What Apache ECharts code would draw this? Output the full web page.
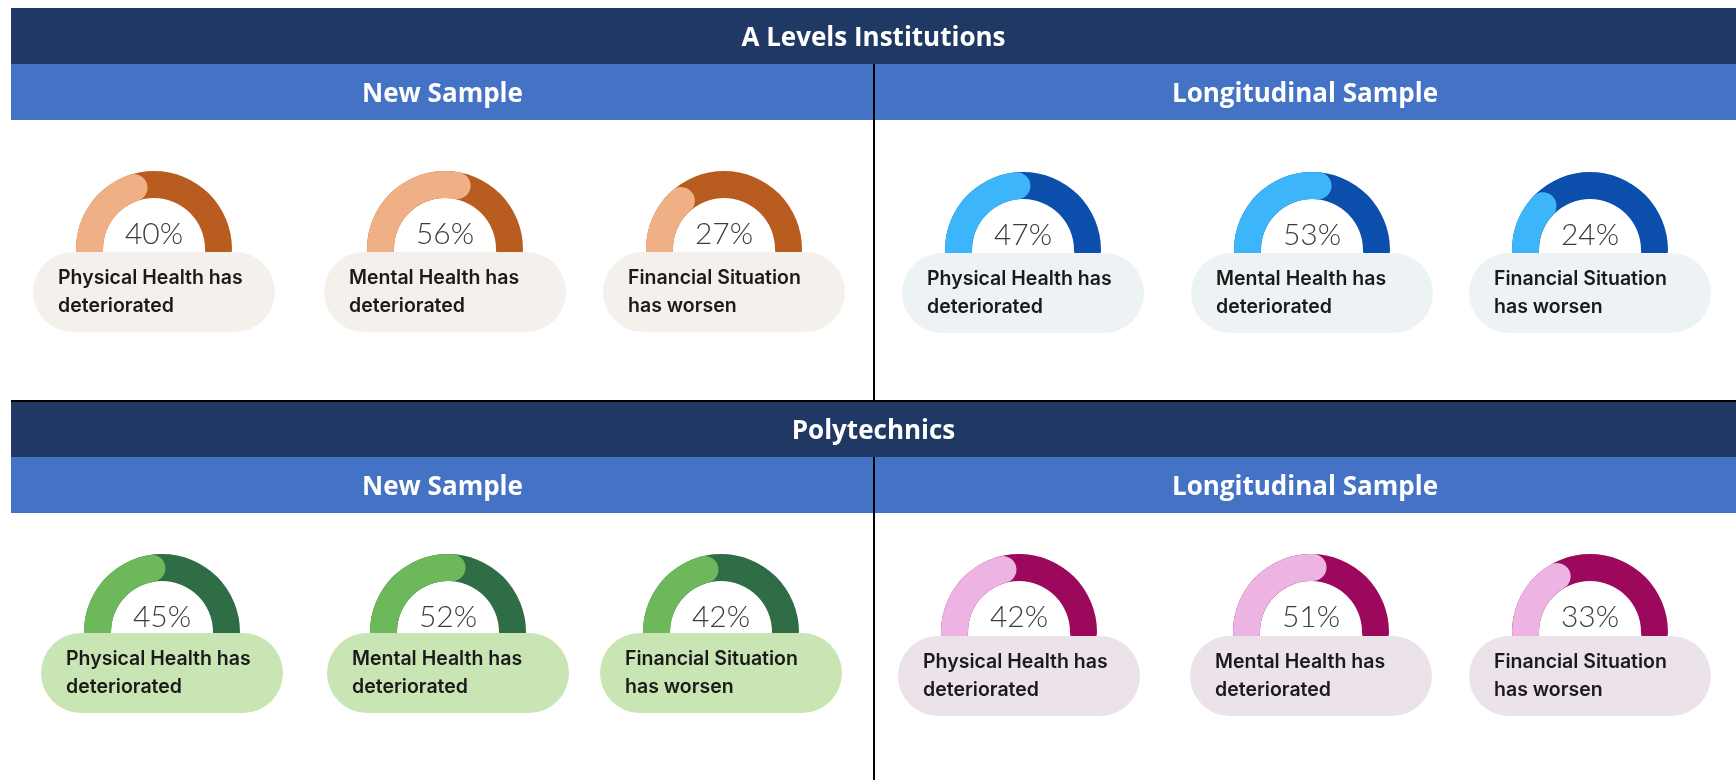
<!DOCTYPE html>
<html>
<head>
<meta charset="utf-8">
<script src="https://cdn.jsdelivr.net/npm/echarts@6/dist/echarts.min.js"></script>
<style>
html,body{margin:0;padding:0;background:#fff;}
#chart{width:1736px;height:780px;}
</style>
</head>
<body>
<div id="chart"></div>
<script>
// ---- data ----
const groups = ['A Levels Institutions', 'Polytechnics'];
const samples = ['New Sample', 'Longitudinal Sample'];
const indicators = ['Physical Health has\ndeteriorated', 'Mental Health has\ndeteriorated', 'Financial Situation\nhas worsen'];
const aLevelsNew = [40, 56, 27];
const aLevelsLongitudinal = [47, 53, 24];
const polytechnicsNew = [45, 52, 42];
const polytechnicsLongitudinal = [42, 51, 33];

// ---- styles ----
const palettes = {
  orange:  {light: '#F0B086', dark: '#B85D1F', bg: '#F4F1EC'},
  blue:    {light: '#3DB5FA', dark: '#0B4EAB', bg: '#EDF3F5'},
  green:   {light: '#6CB85A', dark: '#2F6D47', bg: '#C8E5B3'},
  magenta: {light: '#ECB3E3', dark: '#9B085C', bg: '#ECE2EA'}
};
const DARK = '#203864', MID = '#4472C4';
const R = 78, THICK = 27, PILL_W = 242, PILL_H = 80;

const panels = [
  {values: aLevelsNew,               pal: palettes.orange,  cxs: [154, 445, 724],   cy: 249, pillTop: 252},
  {values: aLevelsLongitudinal,      pal: palettes.blue,    cxs: [1023, 1312, 1590], cy: 250, pillTop: 253},
  {values: polytechnicsNew,          pal: palettes.green,   cxs: [162, 448, 721],   cy: 632, pillTop: 633},
  {values: polytechnicsLongitudinal, pal: palettes.magenta, cxs: [1019, 1311, 1590], cy: 632, pillTop: 636}
];

const series = [];
const graphics = [];

// header bands
const blocks = [{top: 8}, {top: 401}];
blocks.forEach((b, i) => {
  graphics.push({type: 'rect', z: 1, shape: {x: 11, y: b.top, width: 1736 - 11, height: 56}, style: {fill: DARK}});
  graphics.push({type: 'rect', z: 1, shape: {x: 11, y: b.top + 56, width: 1736 - 11, height: 56}, style: {fill: MID}});
  graphics.push({type: 'text', z: 3, x: (11 + 1736) / 2, y: b.top + 31,
    style: {text: groups[i], fill: '#fff', font: 'bold 26px "Open Sans", sans-serif', align: 'center', verticalAlign: 'middle'}});
  graphics.push({type: 'text', z: 3, x: (11 + 874) / 2, y: b.top + 87,
    style: {text: samples[0], fill: '#fff', font: 'bold 26px "Open Sans", sans-serif', align: 'center', verticalAlign: 'middle'}});
  graphics.push({type: 'text', z: 3, x: (874 + 1736) / 2, y: b.top + 87,
    style: {text: samples[1], fill: '#fff', font: 'bold 26px "Open Sans", sans-serif', align: 'center', verticalAlign: 'middle'}});
});
// divider lines
graphics.push({type: 'line', z: 2, shape: {x1: 874, y1: 64, x2: 874, y2: 401}, style: {stroke: '#000', lineWidth: 2}});
graphics.push({type: 'line', z: 2, shape: {x1: 874, y1: 457, x2: 874, y2: 780}, style: {stroke: '#000', lineWidth: 2}});
graphics.push({type: 'line', z: 2, shape: {x1: 11, y1: 401, x2: 1736, y2: 401}, style: {stroke: '#000', lineWidth: 2}});

panels.forEach(p => {
  p.values.forEach((v, k) => {
    const cx = p.cxs[k];
    series.push({
      type: 'gauge',
      z: 2,
      center: [cx, p.cy],
      radius: R,
      startAngle: 180,
      endAngle: 0,
      min: 0,
      max: 100,
      pointer: {show: false},
      axisTick: {show: false},
      splitLine: {show: false},
      axisLabel: {show: false},
      title: {show: false},
      anchor: {show: false},
      axisLine: {roundCap: true, lineStyle: {width: THICK, color: [[1, p.pal.dark]]}},
      progress: {show: true, width: THICK, roundCap: true, itemStyle: {color: p.pal.light}},
      detail: {
        offsetCenter: [0, -15],
        formatter: '{value}%',
        fontSize: 30,
        fontWeight: 300,
        fontFamily: 'Lato, "Open Sans", sans-serif',
        color: '#3c3c3c',
        valueAnimation: false
      },
      data: [{value: v}]
    });
    const left = cx - PILL_W / 2;
    graphics.push({type: 'rect', z: 10, shape: {x: left, y: p.pillTop, width: PILL_W, height: PILL_H, r: PILL_H / 2},
      style: {fill: p.pal.bg}});
    graphics.push({type: 'text', z: 11, x: left + 25, y: p.pillTop + PILL_H / 2,
      style: {text: indicators[k], fill: '#1a1a1a', font: '600 19.5px Inter, sans-serif', lineHeight: 28,
        align: 'left', verticalAlign: 'middle'}});
  });
});

const chart = echarts.init(document.getElementById('chart'), null, {renderer: 'canvas'});
chart.setOption({
  animation: false,
  backgroundColor: '#ffffff',
  graphic: {elements: graphics},
  series: series
});
</script>
</body>
</html>
